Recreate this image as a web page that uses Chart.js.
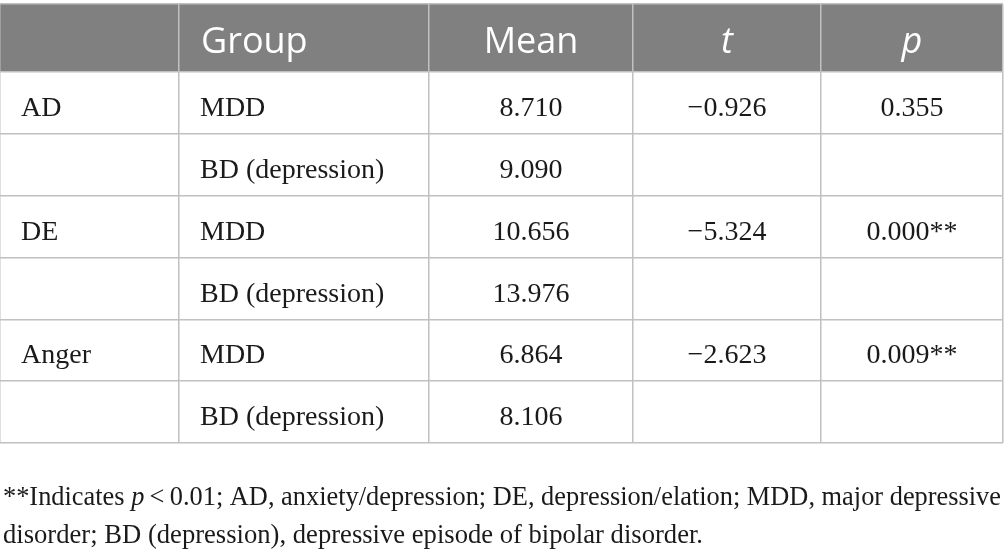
<!DOCTYPE html>
<html>
<head>
<meta charset="utf-8">
<script src="https://cdn.jsdelivr.net/npm/chart.js@4.4.1/dist/chart.umd.min.js"></script>
<style>
  html, body { margin: 0; padding: 0; background: #ffffff; }
  #wrap { width: 1005px; height: 558px; position: relative; }
</style>
</head>
<body>
<div id="wrap"><canvas id="c"></canvas></div>
<script>
// ---- data ----
const headerLabels = ["", "Group", "Mean", "t", "p"];
const headerItalic = [false, false, false, true, true];
const measures = ["AD", "", "DE", "", "Anger", ""];
const groups = ["MDD", "BD (depression)", "MDD", "BD (depression)", "MDD", "BD (depression)"];
const means = [8.710, 9.090, 10.656, 13.976, 6.864, 8.106];
const tValues = [-0.926, null, -5.324, null, -2.623, null];
const pValues = [0.355, null, 0.000, null, 0.009, null];
const sigThreshold = 0.01;
const footnoteLine1 = [
  { text: "**Indicates ", italic: false },
  { text: "p", italic: true },
  { text: "\u2009<\u20090.01; AD, anxiety/depression; DE, depression/elation; MDD, major depressive", italic: false }
];
const footnoteLine2 = [
  { text: "disorder; BD (depression), depressive episode of bipolar disorder.", italic: false }
];

// ---- layout (scale units = design pixels) ----
const colEdges = [0, 179, 429, 633, 821, 1003];
const rowEdges = [4, 72, 134, 196, 258, 320, 381, 443];

function fmtNum(v) {
  if (v === null) return "";
  const s = Math.abs(v).toFixed(3);
  return (v < 0 ? "\u2212" : "") + s;
}
function fmtP(v) {
  if (v === null) return "";
  return v.toFixed(3) + (v < sigThreshold ? "**" : "");
}

const cellText = (r, c) => {
  if (c === 0) return measures[r];
  if (c === 1) return groups[r];
  if (c === 2) return means[r].toFixed(3);
  if (c === 3) return fmtNum(tValues[r]);
  return fmtP(pValues[r]);
};

const serif = '"Liberation Serif", "Times New Roman", serif';
const sans = '"Open Sans", "Noto Sans", sans-serif';

const tablePlugin = {
  id: 'tablePlugin',
  beforeDraw(chart) {
    const { ctx, scales: { x, y } } = chart;
    ctx.save();
    ctx.fillStyle = '#808080';
    const x0 = x.getPixelForValue(colEdges[0]);
    const x1 = x.getPixelForValue(colEdges[colEdges.length - 1]);
    const y0 = y.getPixelForValue(rowEdges[0]);
    const y1 = y.getPixelForValue(rowEdges[1]);
    ctx.fillRect(x0, y0, x1 - x0, y1 - y0);
    ctx.restore();
  },
  afterDraw(chart) {
    const { ctx, scales: { x, y } } = chart;
    ctx.save();
    // header
    ctx.fillStyle = '#ffffff';
    ctx.textBaseline = 'alphabetic';
    const hy = (y.getPixelForValue(rowEdges[0]) + y.getPixelForValue(rowEdges[1])) / 2 + 14.5;
    headerLabels.forEach((lab, c) => {
      if (!lab) return;
      ctx.font = (headerItalic[c] ? 'italic ' : '') + '36px ' + sans;
      const l = x.getPixelForValue(colEdges[c]);
      const r = x.getPixelForValue(colEdges[c + 1]);
      if (c <= 1) {
        ctx.textAlign = 'left';
        ctx.fillText(lab, l + 22, hy);
      } else {
        ctx.textAlign = 'center';
        ctx.fillText(lab, (l + r) / 2, hy);
      }
    });
    // body
    ctx.fillStyle = '#1a1a1a';
    ctx.font = '28px ' + serif;
    for (let r = 0; r < groups.length; r++) {
      const ty = (y.getPixelForValue(rowEdges[r + 1]) + y.getPixelForValue(rowEdges[r + 2])) / 2 + 12.5;
      for (let c = 0; c < 5; c++) {
        const txt = cellText(r, c);
        if (!txt) continue;
        const l = x.getPixelForValue(colEdges[c]);
        const rr = x.getPixelForValue(colEdges[c + 1]);
        if (c <= 1) {
          ctx.textAlign = 'left';
          ctx.fillText(txt, l + 21, ty);
        } else {
          ctx.textAlign = 'center';
          ctx.fillText(txt, (l + rr) / 2, ty);
        }
      }
    }
    // footnote
    const drawLine = (segs, bx, by, targetW) => {
      ctx.textAlign = 'left';
      let total = 0;
      segs.forEach(s => { ctx.font = (s.italic ? 'italic ' : '') + '27px ' + serif; total += ctx.measureText(s.text).width; });
      const k = targetW ? targetW / total : 1;
      ctx.save();
      ctx.translate(bx, by);
      ctx.scale(k, 1);
      let cx = 0;
      segs.forEach(s => {
        ctx.font = (s.italic ? 'italic ' : '') + '27px ' + serif;
        ctx.fillText(s.text, cx, 0);
        cx += ctx.measureText(s.text).width;
      });
      ctx.restore();
    };
    const fx = x.getPixelForValue(colEdges[0]) + 3;
    const by0 = y.getPixelForValue(rowEdges[rowEdges.length - 1]);
    drawLine(footnoteLine1, fx, by0 + 62, 998);
    drawLine(footnoteLine2, fx, by0 + 100, 700);
    ctx.restore();
  }
};

function build() {
  new Chart(document.getElementById('c'), {
    type: 'scatter',
    data: { datasets: [{ data: [], pointRadius: 0 }] },
    options: {
      responsive: true,
      maintainAspectRatio: false,
      animation: false,
      events: [],
      layout: { padding: { left: 0, right: 1005 - colEdges[colEdges.length - 1], top: rowEdges[0], bottom: 558 - rowEdges[rowEdges.length - 1] } },
      plugins: { legend: { display: false }, tooltip: { enabled: false }, title: { display: false } },
      scales: {
        x: {
          type: 'linear',
          min: colEdges[0], max: colEdges[colEdges.length - 1],
          afterBuildTicks: (s) => { s.ticks = colEdges.map(v => ({ value: v })); },
          ticks: { display: false },
          grid: { color: '#c0c0c0', lineWidth: 1.5, drawTicks: false },
          border: { display: false }
        },
        y: {
          type: 'linear', reverse: true,
          min: rowEdges[0], max: rowEdges[rowEdges.length - 1],
          afterBuildTicks: (s) => { s.ticks = rowEdges.map(v => ({ value: v })); },
          ticks: { display: false },
          grid: { color: '#c0c0c0', lineWidth: 1.5, drawTicks: false },
          border: { display: false }
        }
      }
    },
    plugins: [tablePlugin]
  });
}
Promise.all([
  document.fonts.load('28px "Liberation Serif"'),
  document.fonts.load('italic 27px "Liberation Serif"'),
  document.fonts.load('36px "Open Sans"'),
  document.fonts.load('italic 36px "Open Sans"')
]).then(build, build);
</script>
</body>
</html>
